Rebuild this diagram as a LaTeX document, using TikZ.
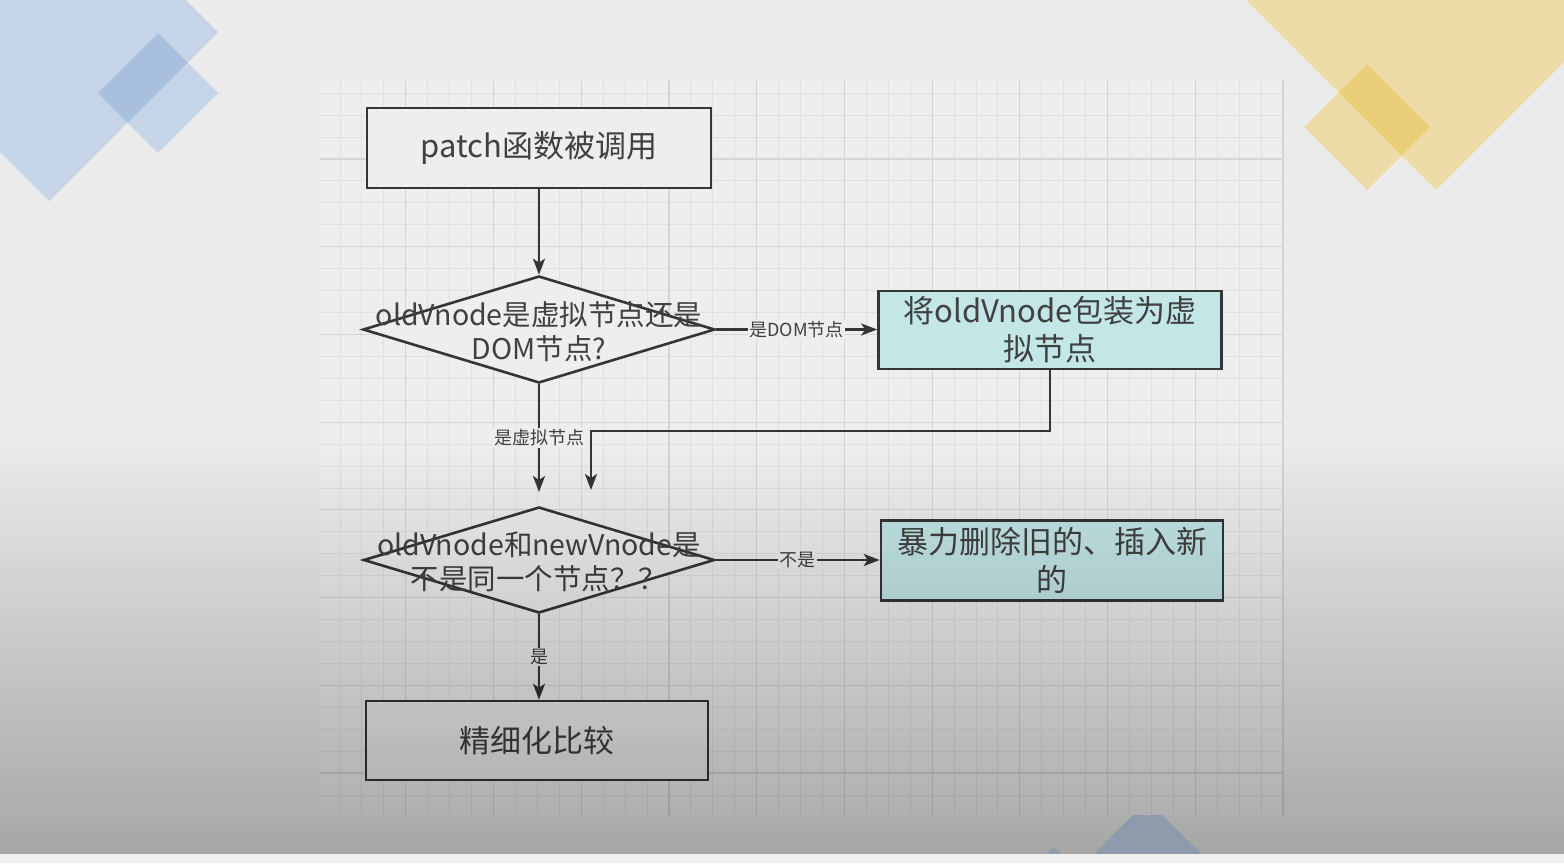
\documentclass[tikz,border=0pt]{standalone}
\usepackage{fontspec}
\setmainfont{Noto Sans CJK SC}
\usetikzlibrary{arrows.meta,shapes.geometric}
\definecolor{bgc}{HTML}{EBEBEB}
\definecolor{panelc}{HTML}{EEEEEE}
\definecolor{gridf}{HTML}{E0E0E0}
\definecolor{gridm}{HTML}{D5D5D5}
\definecolor{linec}{HTML}{353535}
\definecolor{textc}{HTML}{404040}
\definecolor{tealc}{HTML}{C3E6E7}
\definecolor{blueA}{HTML}{C5D5E7}
\definecolor{blueB}{HTML}{A8C0DD}
\definecolor{yelA}{HTML}{EEDCA8}
\definecolor{yelB}{HTML}{EBCF78}
\definecolor{blueC}{HTML}{8D9BAC}
\definecolor{stripc}{HTML}{F0F0F0}
\tikzset{
  procbox/.style={draw=linec, line width=2.6pt, fill=panelc, inner sep=0pt, text=textc,
    align=center, font=\fontsize{31}{38}\selectfont},
  tealbox/.style={procbox, fill=tealc},
  decision/.style={shape=diamond, draw=linec, line width=2.6pt, fill=panelc, inner sep=0pt},
  dtext/.style={text=textc, align=center, inner sep=0pt, font=\fontsize{28.5}{34}\selectfont},
  lbl/.style={fill=panelc, text=textc, inner sep=1.5pt, font=\fontsize{18}{20}\selectfont},
  conn/.style={draw=linec, line width=2.6pt},
  arr/.style={conn, -{Stealth[length=16pt,width=12pt,inset=4pt]}},
}
\begin{document}
\begin{tikzpicture}[x=1pt,y=-1pt]
\useasboundingbox (0,0) rectangle (1564,863);
\fill[bgc] (0,0) rectangle (1564,863);
% decorative blue diamonds (top left)
\fill[blueA] (49,-137) -- (218,32) -- (49,201) -- (-120,32) -- cycle;
\fill[blueA] (158,33) -- (218,93) -- (158,153) -- (98,93) -- cycle;
\begin{scope}
  \clip (49,-137) -- (218,32) -- (49,201) -- (-120,32) -- cycle;
  \fill[blueB] (158,33) -- (218,93) -- (158,153) -- (98,93) -- cycle;
\end{scope}
% decorative yellow diamonds (top right)
\fill[yelA] (1436,-310) -- (1686,-60) -- (1436,190) -- (1186,-60) -- cycle;
\fill[yelA] (1367,64) -- (1430,127) -- (1367,190) -- (1304,127) -- cycle;
\begin{scope}
  \clip (1436,-310) -- (1686,-60) -- (1436,190) -- (1186,-60) -- cycle;
  \fill[yelB] (1367,64) -- (1430,127) -- (1367,190) -- (1304,127) -- cycle;
\end{scope}
% grid panel
\fill[panelc] (320,80) rectangle (1283,815);
\foreach \k in {0,...,43} {
  \pgfmathsetmacro{\xx}{1283-21.93*\k}
  \draw[gridf, line width=0.9pt] (\xx,80) -- (\xx,815);
}
\foreach \k in {-3,...,29} {
  \pgfmathsetmacro{\yy}{159+21.93*\k}
  \draw[gridf, line width=0.9pt] (320,\yy) -- (1283,\yy);
}
\foreach \k in {0,...,10} {
  \pgfmathsetmacro{\xx}{1283-87.72*\k}
  \draw[gridm, line width=1.2pt] (\xx,80) -- (\xx,815);
}
\foreach \k in {0,...,7} {
  \pgfmathsetmacro{\yy}{159+87.72*\k}
  \draw[gridm, line width=1.2pt] (320,\yy) -- (1283,\yy);
}
% nodes
\node[procbox, minimum width=344pt, minimum height=80pt] (b1) at (539,148) {patch函数被调用};
\node[decision, minimum width=352pt, minimum height=107pt] (d1) at (539,329.5) {};
\node[dtext] (d1t) at (539,332) {oldVnode是虚拟节点还是\\DOM节点?};
\node[tealbox, minimum width=343pt, minimum height=78pt] (b2) at (1050,330) {将oldVnode包装为虚\\拟节点};
\node[decision, minimum width=351pt, minimum height=106pt] (d2) at (539,560) {};
\node[dtext] (d2t) at (539,562) {oldVnode和newVnode是\\不是同一个节点？？};
\node[tealbox, minimum width=342pt, minimum height=80pt] (b3) at (1052,560.5) {暴力删除旧的、插入新\\的};
\node[procbox, minimum width=342pt, minimum height=79pt] (b4) at (537,740.5) {精细化比较};
\coordinate (c1) at (539,492);
\coordinate (k1) at (591,431);
\coordinate (c2) at (591,490);
% connectors
\draw[arr] (b1.south) -- (d1.north);
\draw[arr] (d1.east) -- (d1.east -| b2.west) node[lbl, midway] (l1) {是DOM节点};
\draw[arr] (d1.south) -- (c1) node[lbl, pos=0.5] (l2) {是虚拟节点};
\draw[arr] (b2.south) |- (k1) -- (c2);
\draw[arr] (d2.east) -- (d2.east -| b3.west) node[lbl, midway] (l3) {不是};
\draw[arr] (d2.south) -- (d2.south |- b4.north) node[lbl, midway] (l4) {是};
% darkening gradient toward the bottom
\foreach \i in {0,...,82} {
  \pgfmathsetmacro{\op}{0.29*(\i+0.5)/83}
  \fill[black, fill opacity=\op] (0,{440+5*\i}) rectangle (1564,{445+5*\i});
}
% bottom decorative shapes
\fill[blueC] (1133,815) -- (1162,815) -- (1202,854) -- (1094,854) -- cycle;
\fill[blueC] (1046,854) -- (1053.5,847) -- (1061,854) -- cycle;
% bottom strip
\fill[stripc] (0,854) rectangle (1564,863);
\end{tikzpicture}
\end{document}
